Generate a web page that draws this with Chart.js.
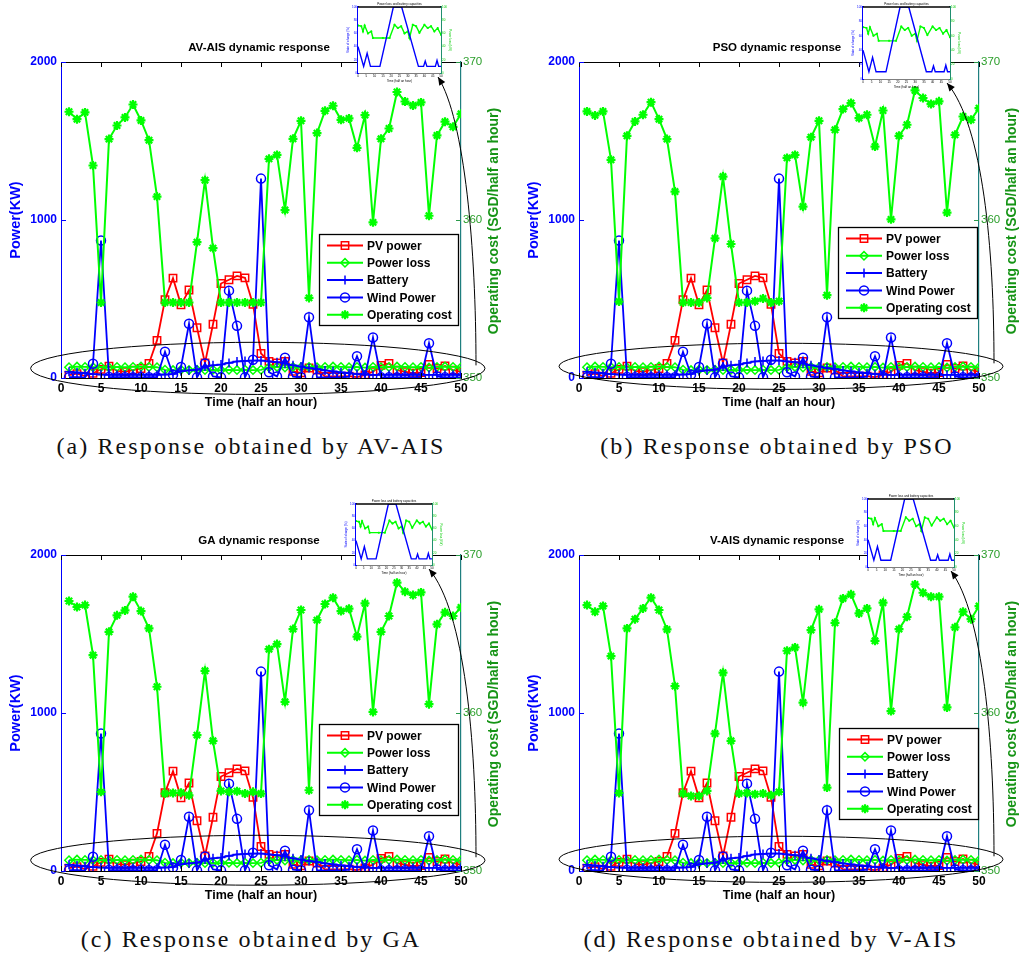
<!DOCTYPE html>
<html>
<head>
<meta charset="utf-8">
<script src="https://cdn.jsdelivr.net/npm/chart.js@4.4.0/dist/chart.umd.min.js"></script>
<style>
  body { margin: 0; background: #fff; width: 1020px; height: 956px; position: relative; overflow: hidden; }
  .panel { position: absolute; }
  .inset { position: absolute; z-index: 2; }
  .cap { position: absolute; width: 520px; text-align: center; font-family: "Liberation Serif", "Times New Roman", serif;
         font-size: 24px; line-height: 24px; letter-spacing: 2.1px; color: #111; }
</style>
</head>
<body>
<canvas id="pa" class="panel" width="502" height="420" style="left:0;top:0"></canvas>
<canvas id="pb" class="panel" width="502" height="420" style="left:518px;top:0"></canvas>
<canvas id="pc" class="panel" width="502" height="420" style="left:0;top:493px"></canvas>
<canvas id="pd" class="panel" width="502" height="420" style="left:518px;top:493px"></canvas>
<canvas id="ia" class="inset"></canvas>
<canvas id="ib" class="inset"></canvas>
<canvas id="ic" class="inset"></canvas>
<canvas id="id" class="inset"></canvas>
<div class="cap" style="left:-9px;top:434px">(a) Response obtained by AV-AIS</div>
<div class="cap" style="left:517px;top:434px">(b) Response obtained by PSO</div>
<div class="cap" style="left:-9px;top:927px">(c) Response obtained by GA</div>
<div class="cap" style="left:511px;top:927px">(d) Response obtained by V-AIS</div>

<script>
// time slots (half an hour)
const timeSlots = [1,2,3,4,5,6,7,8,9,10,11,12,13,14,15,16,17,18,19,20,21,22,23,24,25,
                   26,27,28,29,30,31,32,33,34,35,36,37,38,39,40,41,42,43,44,45,46,47,48,49,50];

// power series (KW), same inputs in every panel
const pvPower = [18,27,12,30,55,75,45,40,50,60,92,238,495,632,463,557,318,95,340,598,
                 622,646,634,466,155,105,95,105,42,32,63,50,10,10,10,12,5,20,40,80,
                 92,50,40,30,35,86,60,76,50,40];
const powerLoss = [68,72,70,68,70,66,70,68,70,72,70,68,52,50,52,50,52,50,52,50,
                   52,50,52,50,52,68,70,66,70,68,70,68,70,72,70,68,70,66,70,68,
                   70,72,70,68,70,66,70,72,70,68];
const batteryPower = [40,35,30,25,22,20,20,20,20,20,20,20,22,25,42,48,53,72,80,85,
                      95,105,108,110,110,105,100,92,80,72,63,57,48,42,36,30,25,22,20,20,
                      20,20,20,20,20,20,20,20,20,20];
const windPower = [5,5,3,90,870,6,5,5,5,4,5,5,166,21,70,343,4,92,10,4,
                   553,330,4,115,1262,36,10,128,8,5,384,4,4,4,4,8,138,8,256,4,
                   4,4,4,4,4,220,10,4,4,4];

// operating cost (SGD/half an hour) per algorithm
const costAVAIS = [366.85,366.38,366.81,363.45,354.78,365.12,365.98,366.49,367.31,366.30,
                   365.05,361.48,354.78,354.78,354.78,354.78,358.60,362.52,358.22,354.78,
                   354.78,354.78,354.78,354.78,354.78,363.87,364.12,360.63,365.14,366.28,
                   355.07,365.50,366.91,367.23,366.34,366.43,364.57,366.64,359.85,365.14,
                   365.79,368.10,367.50,367.25,367.44,360.27,365.35,366.22,365.90,366.72];
const costPSO = [366.87,366.62,366.87,363.81,354.84,365.33,366.24,366.66,367.46,366.38,
                 365.12,361.80,354.78,354.78,354.78,355.07,358.84,362.75,358.48,354.78,
                 354.78,354.86,355.03,354.78,354.86,363.93,364.12,360.85,365.24,366.28,
                 355.24,365.71,367.02,367.40,366.45,366.66,364.65,366.93,360.04,365.33,
                 366.03,368.20,367.72,367.34,367.51,360.47,365.39,366.55,366.34,367.08];
const costGA = [367.09,366.71,366.83,363.66,355.01,365.14,366.18,366.49,367.36,366.45,
                365.35,361.66,354.90,354.94,354.96,354.79,358.60,362.67,358.24,355.07,
                355.01,355.05,354.90,355.01,354.90,364.04,364.36,360.71,365.31,366.52,
                355.11,365.88,366.90,367.30,366.45,366.60,364.83,366.94,360.07,365.14,
                366.14,368.25,367.68,367.47,367.63,360.56,365.61,366.37,366.14,366.68];
const costVAIS = [366.83,366.41,366.77,363.60,354.94,365.35,365.94,366.62,367.30,366.52,
                  365.29,361.70,354.90,354.75,354.75,355.07,358.70,362.55,358.24,354.90,
                  354.94,354.86,354.90,354.79,355.01,363.94,364.15,360.66,365.25,366.56,
                  355.28,365.71,367.25,367.51,366.30,366.62,364.57,366.98,360.12,365.31,
                  366.09,368.14,367.61,367.36,367.36,360.35,365.42,366.41,365.94,366.77];

// inset: battery state of charge and power loss
const insetSocX = [0,3.4,5.5,7.5,13.2,21.3,26.3,36.4,39.5,40.5,41.5,46.6,47.6,48.6,50];
const insetSoc  = [40,10,30,10,10,100,100,10,10,18,10,10,19,10,10];
const insetLossX = [0,2,3,4,6,8,9,15,19,22,24,26,28,30,31,33,35,37,40,42,44,46,48,50];
const insetLoss  = [72,71,63,72,60,63,53,53,53,73,68,71,60,63,53,73,71,61,73,68,71,63,68,58];

const powerTicks = [0, 1000, 2000];
const costTicks = [350, 360, 370];

Chart.defaults.font.family = '"Liberation Sans", Arial, sans-serif';

const panels = [
  {canvas: 'pa', inset: 'ia', left: 0, top: 0, title: 'AV-AIS dynamic response', cost: costAVAIS,
   legend: {x: 319, y: 234}, ellipse: {x: 24.6, y: 61, rx: 28.4, ry: 165}, box: {l: 358, t: 7, w: 83, h: 66}},
  {canvas: 'pb', inset: 'ib', left: 518, top: 0, title: 'PSO dynamic response', cost: costPSO,
   legend: {x: 320, y: 227}, ellipse: {x: 25.25, y: 74, rx: 27.75, ry: 146}, box: {l: 863, t: 7, w: 87, h: 72}},
  {canvas: 'pc', inset: 'ic', left: 0, top: 493, title: 'GA dynamic response', cost: costGA,
   legend: {x: 319, y: 231}, ellipse: {x: 24.6, y: 68, rx: 28.4, ry: 158}, box: {l: 356, t: 504, w: 76, h: 61}},
  {canvas: 'pd', inset: 'id', left: 518, top: 493, title: 'V-AIS dynamic response', cost: costVAIS,
   legend: {x: 321, y: 235}, ellipse: {x: 25.25, y: 74, rx: 27.75, ry: 146}, box: {l: 868, t: 499, w: 86, h: 68}}
];

const pts = (arr) => timeSlots.map((t, i) => ({x: t, y: arr[i]}));
const plain = (v) => String(v);

function datasets(cost) {
  const common = {backgroundColor: 'rgba(0,0,0,0)', fill: false, tension: 0, borderWidth: 1.8, pointBorderWidth: 1.5};
  return [
    {...common, label: 'PV power', data: pts(pvPower), borderColor: '#ff0000', pointStyle: 'rect', pointRadius: 5.2, yAxisID: 'y', order: 4},
    {...common, label: 'Power loss', data: pts(powerLoss), borderColor: '#00ff00', pointStyle: 'rectRot', pointRadius: 4.2, yAxisID: 'y', order: 3},
    {...common, label: 'Battery', data: pts(batteryPower), borderColor: '#0000ff', pointStyle: 'cross', pointRadius: 4.5, yAxisID: 'y', order: 2},
    {...common, label: 'Wind Power', data: pts(windPower), borderColor: '#0000ff', pointStyle: 'circle', pointRadius: 4.5, yAxisID: 'y', order: 1},
    {...common, label: 'Operating cost', data: pts(cost), borderColor: '#00ff00', pointStyle: 'star', pointRadius: 4.5, pointBorderWidth: 2.2, borderWidth: 2, yAxisID: 'y2', order: 0}
  ];
}

function framePlugin(p) {
  return {
    id: 'frame',
    afterDatasetsDraw(chart) {
      const ctx = chart.ctx, a = chart.chartArea, sx = chart.scales.x, sy = chart.scales.y;
      // ellipse around the low-power region
      const cx = sx.getPixelForValue(p.ellipse.x), cy = sy.getPixelForValue(p.ellipse.y);
      const rx = sx.getPixelForValue(p.ellipse.x + p.ellipse.rx) - cx;
      const ry = cy - sy.getPixelForValue(p.ellipse.y + p.ellipse.ry);
      ctx.save();
      ctx.strokeStyle = '#000'; ctx.lineWidth = 1;
      ctx.beginPath(); ctx.ellipse(cx, cy, rx, ry, 0, 0, Math.PI * 2); ctx.stroke();
      // curved arrow to the zoomed inset
      const S = {x: a.right + 15, y: cy - 3};
      const T = {x: p.box.l + p.box.w - 3 - p.left, y: p.box.t + p.box.h + 4 - p.top};
      const C1 = {x: S.x, y: S.y - 115}, C2 = {x: S.x - 11, y: T.y + 43};
      ctx.beginPath(); ctx.moveTo(S.x, S.y); ctx.bezierCurveTo(C1.x, C1.y, C2.x, C2.y, T.x, T.y); ctx.stroke();
      const ang = Math.atan2(T.y - C2.y, T.x - C2.x);
      ctx.fillStyle = '#000';
      ctx.beginPath();
      ctx.moveTo(T.x, T.y);
      ctx.lineTo(T.x - 8 * Math.cos(ang) + 3.5 * Math.sin(ang), T.y - 8 * Math.sin(ang) - 3.5 * Math.cos(ang));
      ctx.lineTo(T.x - 8 * Math.cos(ang) - 3.5 * Math.sin(ang), T.y - 8 * Math.sin(ang) + 3.5 * Math.cos(ang));
      ctx.closePath(); ctx.fill();
      ctx.restore();
    },
    afterDraw(chart) {
      const ctx = chart.ctx, a = chart.chartArea, sx = chart.scales.x, sy = chart.scales.y, s2 = chart.scales.y2;
      ctx.save();
      // top border and inward ticks
      ctx.lineWidth = 1;
      ctx.strokeStyle = '#000';
      ctx.beginPath(); ctx.moveTo(a.left, a.top + 0.5); ctx.lineTo(a.right, a.top + 0.5); ctx.stroke();
      ctx.beginPath();
      for (let v = 0; v <= 50; v += 5) {
        const x = Math.round(sx.getPixelForValue(v)) + 0.5;
        ctx.moveTo(x, a.bottom); ctx.lineTo(x, a.bottom - 5);
        ctx.moveTo(x, a.top); ctx.lineTo(x, a.top + 5);
      }
      ctx.stroke();
      ctx.strokeStyle = '#0000ff';
      ctx.beginPath();
      powerTicks.forEach(v => { const y = Math.round(sy.getPixelForValue(v)) + 0.5; ctx.moveTo(a.left, y); ctx.lineTo(a.left + 5, y); });
      ctx.stroke();
      ctx.strokeStyle = '#2a9a4a';
      ctx.beginPath();
      costTicks.forEach(v => { const y = Math.round(s2.getPixelForValue(v)) + 0.5; ctx.moveTo(a.right, y); ctx.lineTo(a.right - 5, y); });
      ctx.stroke();
      // title
      ctx.fillStyle = '#000';
      ctx.font = 'bold 11.5px "Liberation Sans", Arial, sans-serif';
      ctx.textAlign = 'center'; ctx.textBaseline = 'middle';
      ctx.fillText(p.title, (a.left + a.right) / 2 - 2, a.top - 14);
      // right axis title, reading bottom to top
      ctx.save();
      ctx.translate(a.right + 33, (a.top + a.bottom) / 2 + 1);
      ctx.rotate(-Math.PI / 2);
      ctx.fillStyle = '#169416';
      ctx.font = 'bold 14px "Liberation Sans", Arial, sans-serif';
      ctx.fillText('Operating cost (SGD/half an hour)', 0, 0);
      ctx.restore();
      // legend
      const L = p.legend, W = 139, H = 91;
      ctx.fillStyle = '#fff';
      ctx.fillRect(L.x, L.y, W, H);
      ctx.strokeStyle = '#000'; ctx.lineWidth = 1.3;
      ctx.strokeRect(L.x + 0.5, L.y + 0.5, W, H);
      ctx.font = 'bold 12px "Liberation Sans", Arial, sans-serif';
      ctx.textAlign = 'left';
      chart.data.datasets.forEach((ds, i) => {
        const y = L.y + 11.5 + i * 17.3;
        ctx.strokeStyle = ds.borderColor; ctx.lineWidth = 2;
        ctx.beginPath(); ctx.moveTo(L.x + 8, y); ctx.lineTo(L.x + 44, y); ctx.stroke();
        ctx.fillStyle = 'rgba(0,0,0,0)';
        ctx.lineWidth = ds.pointBorderWidth;
        Chart.helpers.drawPoint(ctx, {pointStyle: ds.pointStyle, radius: ds.pointRadius, rotation: 0, borderWidth: ds.pointBorderWidth}, L.x + 26, y);
        ctx.fillStyle = '#000';
        ctx.fillText(ds.label, L.x + 48, y + 1);
      });
      ctx.restore();
    }
  };
}

function makePanel(p) {
  new Chart(document.getElementById(p.canvas), {
    type: 'line',
    data: {datasets: datasets(p.cost)},
    options: {
      responsive: false, animation: false, devicePixelRatio: 1,
      layout: {padding: {top: 62, left: 0, right: 0, bottom: 0}},
      plugins: {legend: {display: false}, tooltip: {enabled: false}},
      scales: {
        x: {type: 'linear', min: 0, max: 50,
            ticks: {stepSize: 5, color: '#000', font: {size: 12, weight: 'bold'}, padding: 3, maxRotation: 0, callback: plain},
            grid: {drawOnChartArea: false, drawTicks: false},
            border: {color: '#000', width: 1},
            title: {display: true, text: 'Time (half an hour)', color: '#000', font: {size: 12.5, weight: 'bold'}, padding: {top: 0, bottom: 10}},
            afterFit(s) { s.height = 42; }},
        y: {position: 'left', min: 0, max: 2000,
            afterBuildTicks(s) { s.ticks = powerTicks.map(v => ({value: v})); },
            ticks: {color: '#0000ff', font: {size: 12, weight: 'bold'}, padding: 4, callback: plain},
            grid: {drawOnChartArea: false, drawTicks: false},
            border: {color: '#0000ff', width: 1},
            title: {display: true, text: 'Power(KW)', color: '#0000ff', font: {size: 14.5, weight: 'bold'}, padding: {top: 7, bottom: 0}},
            afterFit(s) { s.width = 61; }},
        y2: {position: 'right', min: 350, max: 370,
            afterBuildTicks(s) { s.ticks = costTicks.map(v => ({value: v})); },
            ticks: {color: '#2a9e2a', font: {size: 11.5}, padding: 2, callback: plain},
            grid: {drawOnChartArea: false, drawTicks: false},
            border: {color: '#1f7f7f', width: 1.2},
            afterFit(s) { s.width = 41; }}
      }
    },
    plugins: [framePlugin(p)]
  });
}

function makeInset(p) {
  const c = document.getElementById(p.inset);
  const padL = 14, padR = 12, padT = 6, padB = 12;
  c.width = p.box.w + padL + padR; c.height = p.box.h + padT + padB;
  c.style.left = (p.box.l - padL) + 'px'; c.style.top = (p.box.t - padT) + 'px';
  const tiny = {size: 3};
  new Chart(c, {
    type: 'line',
    data: {datasets: [
      {data: insetSocX.map((x, i) => ({x: x, y: insetSoc[i]})), borderColor: '#0000ff', borderWidth: 1.4, pointRadius: 0, yAxisID: 'y'},
      {data: insetLossX.map((x, i) => ({x: x, y: insetLoss[i]})), borderColor: '#00ff00', borderWidth: 1.4, pointRadius: 1, pointStyle: 'cross', yAxisID: 'y2'}
    ]},
    options: {
      responsive: false, animation: false, devicePixelRatio: 1,
      layout: {padding: {top: padT, left: 0, right: 0, bottom: 0}},
      plugins: {legend: {display: false}, tooltip: {enabled: false}},
      scales: {
        x: {type: 'linear', min: 0, max: 50, ticks: {stepSize: 5, font: tiny, color: '#000', padding: 1, maxRotation: 0},
            grid: {drawOnChartArea: false, drawTicks: false}, border: {color: '#000', width: 1.5},
            title: {display: true, text: 'Time (half an hour)', font: tiny, color: '#000', padding: {top: 0, bottom: 2}},
            afterFit(s) { s.height = padB; }},
        y: {min: 0, max: 100, ticks: {stepSize: 20, font: tiny, color: '#0000ff', padding: 1},
            grid: {drawOnChartArea: false, drawTicks: false}, border: {color: '#0000ff', width: 2},
            title: {display: true, text: 'State of charge (%)', font: tiny, color: '#0000ff', padding: {top: 2, bottom: 0}},
            afterFit(s) { s.width = padL; }},
        y2: {position: 'right', min: 0, max: 100, ticks: {stepSize: 20, font: tiny, color: '#00cc00', padding: 1},
            grid: {drawOnChartArea: false, drawTicks: false}, border: {color: '#1f8f6f', width: 2},
            title: {display: true, text: 'Power loss (kW)', font: tiny, color: '#00cc00', padding: {top: 1, bottom: 0}},
            afterFit(s) { s.width = padR; }}
      }
    },
    plugins: [{
      id: 'insetFrame',
      beforeDatasetsDraw(chart) {
        const ctx = chart.ctx, a = chart.chartArea;
        ctx.save(); ctx.fillStyle = '#fff'; ctx.fillRect(a.left, a.top, a.right - a.left, a.bottom - a.top); ctx.restore();
      },
      afterDraw(chart) {
        const ctx = chart.ctx, a = chart.chartArea;
        ctx.save();
        ctx.strokeStyle = '#000'; ctx.lineWidth = 1.5;
        ctx.beginPath(); ctx.moveTo(a.left, a.top); ctx.lineTo(a.right, a.top); ctx.stroke();
        ctx.fillStyle = '#000'; ctx.font = '3px "Liberation Sans", Arial';
        ctx.textAlign = 'center'; ctx.textBaseline = 'bottom';
        ctx.fillText('Power loss and battery capacities', (a.left + a.right) / 2, a.top - 1);
        ctx.restore();
      }
    }]
  });
}

panels.forEach(p => { makePanel(p); makeInset(p); });
</script>
</body>
</html>
